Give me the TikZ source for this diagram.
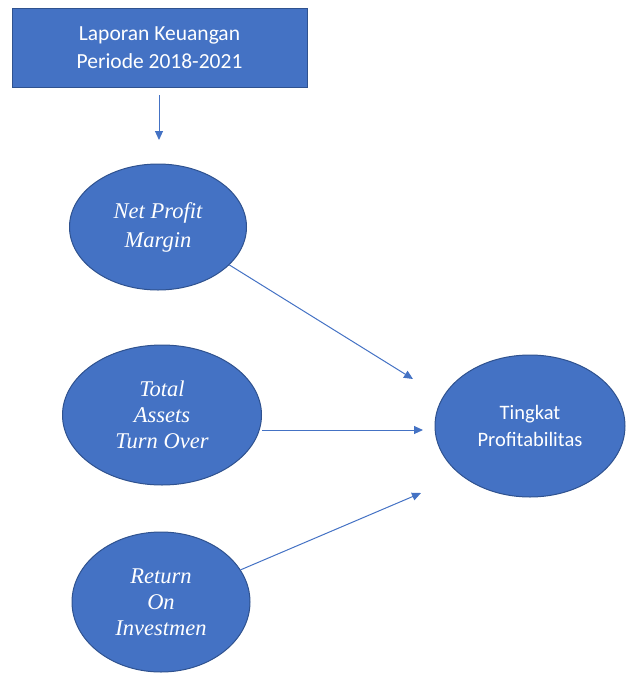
\documentclass[tikz,border=0pt]{standalone}
\usepackage{fontspec}
\setmainfont{Liberation Serif}
\newfontfamily\calib{Carlito}
\usetikzlibrary{arrows.meta,shapes.geometric}
\definecolor{ofblue}{HTML}{4472C4}
\definecolor{ofedge}{HTML}{2F528F}
\begin{document}
\begin{tikzpicture}[x=1pt,y=-1pt,
  box/.style={draw=ofedge,fill=ofblue,line width=1pt,text=white,align=center,font=\calib\fontsize{21.5}{28}\selectfont},
  ell/.style={ellipse,draw=ofedge,fill=ofblue,line width=1pt,text=white,align=center,inner sep=0pt},
  itl/.style={font=\itshape\fontsize{22.5}{26}\selectfont},
  sns/.style={font=\calib\fontsize{20.5}{27}\selectfont},
  arr/.style={draw=ofblue,line width=1pt,-{Triangle[length=9pt,width=8pt]}}]
\useasboundingbox (0,0) rectangle (626,673);
\node[box,minimum width=295pt,minimum height=79pt] (lap) at (159.5,47.5) {Laporan Keuangan\\Periode 2018-2021};
\node[ell,itl,minimum width=177pt,minimum height=126pt] (npm) at (158,227) {Net Profit\\[3pt]Margin};
\node[ell,itl,minimum width=199pt,minimum height=140pt] (tato) at (162,415) {Total\\Assets\\Turn Over};
\node[ell,itl,minimum width=178pt,minimum height=140pt] (roi) at (161,602) {Return\\On\\Investmen};
\node[ell,sns,minimum width=190pt,minimum height=142pt] (tp) at (530,426) {Tingkat\\Profitabilitas};
\coordinate (a0) at (159,140);
\coordinate (a1) at (413,379);
\coordinate (a2) at (423,430);
\coordinate (a3) at (421,493);
\draw[arr] (159,95) -- (a0);
\draw[arr] (npm.-28) -- (a1);
\draw[arr] (tato.east |- a2) -- (a2);
\draw[arr] (roi.22) -- (a3);
\end{tikzpicture}
\end{document}
